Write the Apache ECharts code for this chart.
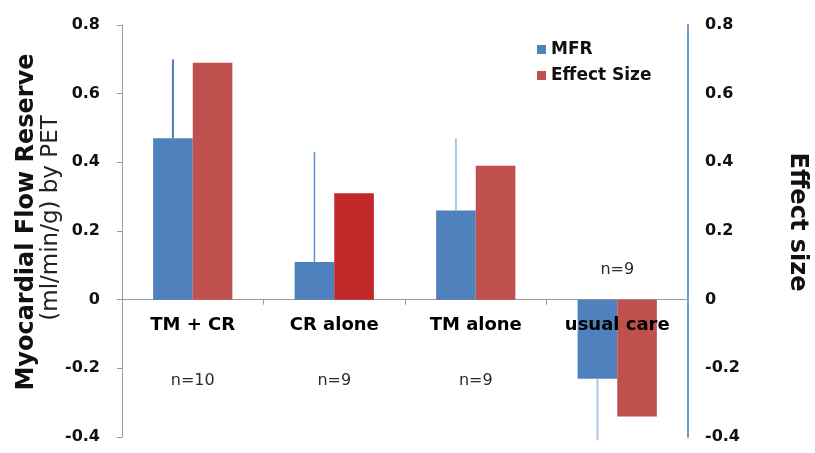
<!DOCTYPE html>
<html>
<head>
<meta charset="utf-8">
<script src="https://cdn.jsdelivr.net/npm/echarts@6/dist/echarts.min.js"></script>
<style>
  html, body { margin: 0; padding: 0; background: #fff; }
  #chart { width: 815px; height: 453px; }
</style>
</head>
<body>
<div id="chart"></div>
<script>
// Groups and measured values
const categories = ['TM + CR', 'CR alone', 'TM alone', 'usual care'];
const mfrValues = [0.47, 0.11, 0.26, -0.23];
const mfrErrors = [0.23, 0.32, 0.21, 0.18];
const effectSizes = [0.69, 0.31, 0.39, -0.34];
const groupSizes = ['n=10', 'n=9', 'n=9', 'n=9'];
const yTicks = [-0.4, -0.2, 0, 0.2, 0.4, 0.6, 0.8];

// Where the group-size notes sit on the value scale
const noteLevels = [-0.236, -0.236, -0.236, 0.087];

const FONT = 'DejaVu Sans';
const BLUE = '#4F81BD';
const RED = '#C0504D';
const RED_BRIGHT = '#C0282A';
const errColors = ['#4F81BD', '#5B8FD0', '#A8C6EA', '#A8C6EA'];
const errWidths = [2, 1.5, 2, 2];

const yMin = yTicks[0], yMax = yTicks[yTicks.length - 1], yStep = yTicks[1] - yTicks[0];
const fmt = v => (Math.abs(v) < 1e-9 ? '0' : v.toFixed(1));

const chart = echarts.init(document.getElementById('chart'), null, { renderer: 'canvas' });

const option = {
  animation: false,
  textStyle: { fontFamily: FONT },
  grid: { left: 122, right: 127, top: 25, bottom: 16, containLabel: false, outerBoundsMode: 'none' },
  legend: {
    data: ['MFR', 'Effect Size'],
    orient: 'vertical',
    left: 537,
    top: 41,
    padding: 0,
    itemWidth: 9,
    itemHeight: 9,
    itemGap: 9,
    icon: 'rect',
    textStyle: { fontFamily: FONT, fontWeight: 'bold', fontSize: 17, color: '#111' }
  },
  xAxis: {
    type: 'category',
    data: categories,
    axisLine: { onZero: true, onZeroAxisIndex: 0, lineStyle: { color: '#9a9a9a', width: 1 } },
    axisTick: { show: true, length: 5, lineStyle: { color: '#9a9a9a' } },
    // group names are drawn at the zero line by the 'group names' series below
    axisLabel: { show: false },
    splitLine: { show: false }
  },
  yAxis: [
    {
      type: 'value',
      min: yMin, max: yMax, interval: yStep,
      axisLine: { show: true, lineStyle: { color: '#9a9a9a' } },
      axisTick: { show: true, length: 5, lineStyle: { color: '#9a9a9a' } },
      axisLabel: { fontFamily: FONT, fontWeight: 'bold', fontSize: 16, color: '#111', margin: 22, formatter: fmt },
      splitLine: { show: false }
    },
    {
      type: 'value',
      position: 'right',
      min: yMin, max: yMax, interval: yStep,
      axisLine: { show: true, lineStyle: { color: '#6A9BD8', width: 2 } },
      axisTick: { show: false },
      axisLabel: { fontFamily: FONT, fontWeight: 'bold', fontSize: 16, color: '#111', margin: 17, formatter: fmt },
      splitLine: { show: false }
    }
  ],
  series: [
    {
      name: 'MFR',
      type: 'bar',
      data: mfrValues,
      barGap: '0%',
      barCategoryGap: '44%',
      itemStyle: { color: BLUE },
      z: 2
    },
    {
      name: 'Effect Size',
      type: 'bar',
      data: effectSizes.map((v, i) => (i === 1 ? { value: v, itemStyle: { color: RED_BRIGHT } } : v)),
      barGap: '0%',
      barCategoryGap: '44%',
      itemStyle: { color: RED },
      z: 2
    },
    {
      // one-sided error whiskers above/below the MFR bars
      name: 'MFR error',
      type: 'custom',
      clip: false,
      z: 3,
      data: mfrValues.map((v, i) => [i, v, mfrErrors[i]]),
      renderItem: (params, api) => {
        const idx = api.value(0);
        const v = api.value(1);
        const e = api.value(2);
        const band = api.size([1, 0])[0];
        const start = api.coord([idx, v]);
        const end = api.coord([idx, v + (v >= 0 ? e : -e)]);
        const x = start[0] - band * 0.14;
        return {
          type: 'line',
          shape: { x1: x, y1: start[1], x2: x, y2: end[1] },
          style: { stroke: errColors[idx], lineWidth: errWidths[idx] }
        };
      }
    },
    {
      name: 'group size',
      type: 'scatter',
      symbolSize: 0,
      silent: true,
      itemStyle: { opacity: 1 },
      data: noteLevels.map((y, i) => [i, y]),
      label: {
        show: true,
        position: 'inside',
        formatter: p => groupSizes[p.dataIndex],
        fontFamily: FONT,
        fontSize: 16,
        color: '#2a2a2a'
      }
    },
    {
      // group names hanging just below the zero line, drawn over the bars
      name: 'group names',
      type: 'scatter',
      symbolSize: 0,
      silent: true,
      z: 10,
      itemStyle: { opacity: 1 },
      data: categories.map((c, i) => [i, 0]),
      label: {
        show: true,
        position: 'bottom',
        distance: 17,
        formatter: p => categories[p.dataIndex],
        fontFamily: FONT,
        fontWeight: 'bold',
        fontSize: 18,
        color: '#000'
      }
    }
  ],
  graphic: [
    {
      type: 'text',
      rotation: Math.PI / 2,
      x: 27, y: 222,
      style: {
        text: 'Myocardial Flow Reserve',
        font: 'bold 24px "DejaVu Sans"',
        fill: '#111',
        textAlign: 'center',
        textVerticalAlign: 'middle'
      }
    },
    {
      type: 'text',
      rotation: Math.PI / 2,
      x: 51, y: 218,
      style: {
        text: '(ml/min/g) by PET',
        font: '23px "DejaVu Sans"',
        fill: '#222',
        textAlign: 'center',
        textVerticalAlign: 'middle'
      }
    },
    {
      type: 'text',
      rotation: -Math.PI / 2,
      x: 797, y: 222,
      style: {
        text: 'Effect size',
        font: 'bold 24px "DejaVu Sans"',
        fill: '#111',
        textAlign: 'center',
        textVerticalAlign: 'middle'
      }
    }
  ]
};

chart.setOption(option);
</script>
</body>
</html>
